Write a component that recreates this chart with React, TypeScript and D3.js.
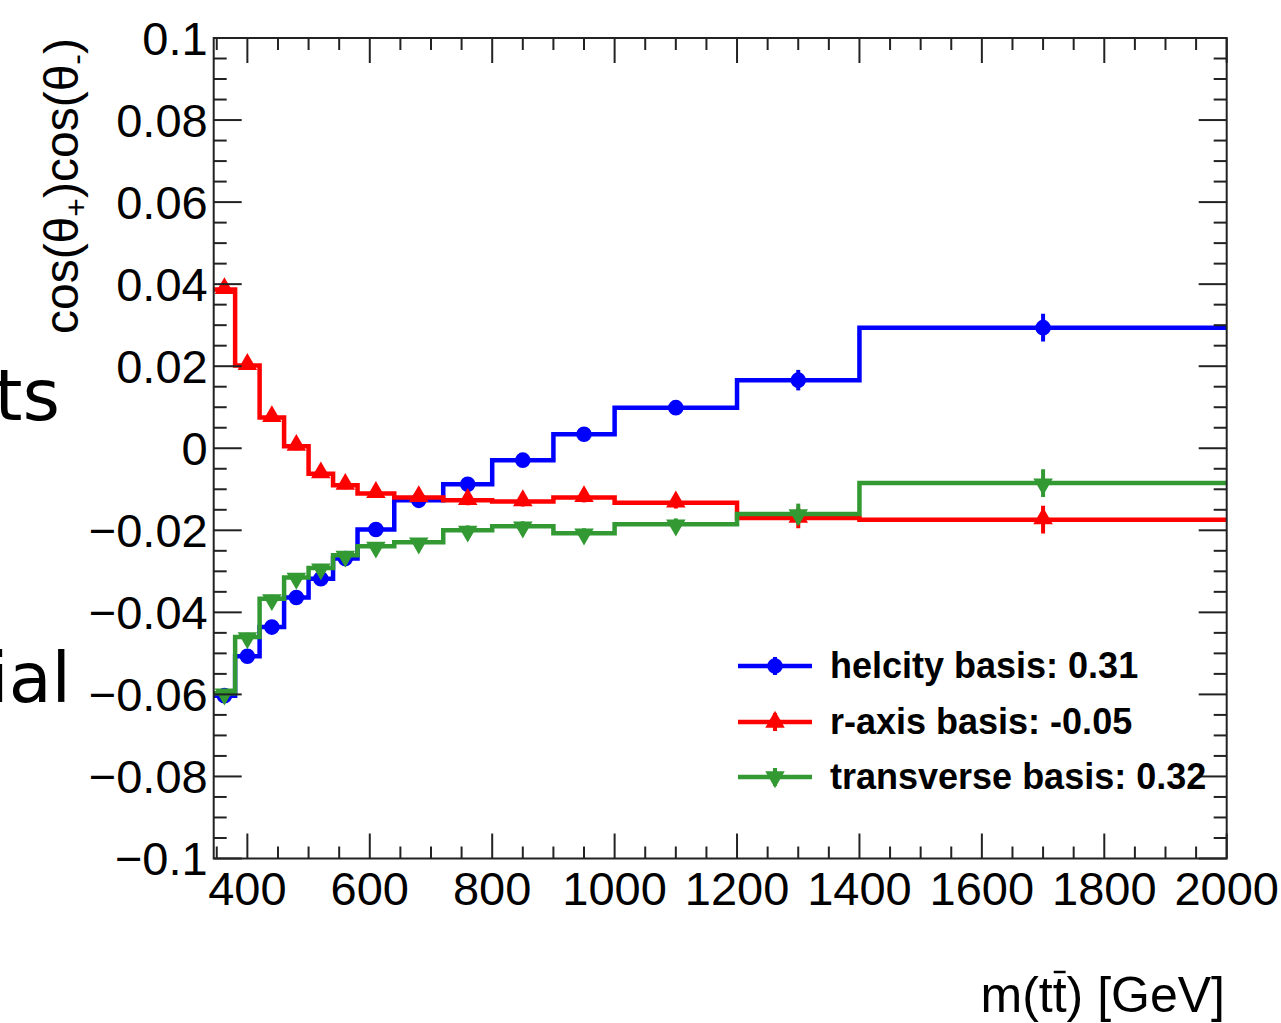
import React, { useEffect, useRef } from 'react';
import * as d3 from 'd3';

// bin edges in m(tt) [GeV]
const binEdges = [345, 380, 420, 460, 500, 540, 580, 640, 720, 800, 900, 1000, 1200, 1400, 2000];

const helicity = [-0.0603, -0.0507, -0.0436, -0.0364, -0.0318, -0.0269, -0.0198, -0.0127, -0.0088, -0.0029, 0.0034, 0.0099, 0.0166, 0.0294];
const helicityErr = [0.001, 0.001, 0.001, 0.001, 0.001, 0.001, 0.001, 0.001, 0.0012, 0.0012, 0.0012, 0.0014, 0.0025, 0.0034];

const rAxis = [0.0387, 0.0202, 0.0075, 0.0005, -0.0062, -0.009, -0.011, -0.012, -0.0127, -0.013, -0.012, -0.0133, -0.017, -0.0174];
const rAxisErr = [0.001, 0.001, 0.001, 0.001, 0.001, 0.001, 0.001, 0.001, 0.0012, 0.0012, 0.0012, 0.0014, 0.0025, 0.0034];

const transverse = [-0.0597, -0.046, -0.0367, -0.0315, -0.0292, -0.0261, -0.0239, -0.0229, -0.02, -0.019, -0.0207, -0.0185, -0.016, -0.0085];
const transverseErr = [0.001, 0.001, 0.001, 0.001, 0.001, 0.001, 0.001, 0.001, 0.0012, 0.0012, 0.0012, 0.0014, 0.0025, 0.0034];

const seriesNames = ['helcity basis: 0.31', 'r-axis basis: -0.05', 'transverse basis: 0.32'];
const seriesColors = ['#0000ff', '#ff0000', '#339933'];

const xTickValues = [400, 600, 800, 1000, 1200, 1400, 1600, 1800, 2000];
const yTickValues = [-0.1, -0.08, -0.06, -0.04, -0.02, 0, 0.02, 0.04, 0.06, 0.08, 0.1];

const width = 1281;
const height = 1023;
const left = 213.7;
const right = 1226.7;
const top = 38;
const bottom = 858.5;
const font = '"Liberation Sans", Arial, Helvetica, sans-serif';

export default function App() {
    const svgRef = useRef(null);

    useEffect(() => {
        const svg = d3.select(svgRef.current);
        svg.selectAll('*').remove();

        const x = d3.scaleLinear().domain([binEdges[0], binEdges[binEdges.length - 1]]).range([left, right]);
        const y = d3.scaleLinear().domain([-0.1, 0.1]).range([bottom, top]);

        // cut-off slide text on the left
        svg.append('text').attr('x', 60).attr('y', 420).attr('text-anchor', 'end')
            .attr('font-family', '"DejaVu Sans", Verdana, sans-serif').attr('font-size', 72).attr('fill', '#000')
            .text('ts');
        svg.append('text').attr('x', 71).attr('y', 702).attr('text-anchor', 'end')
            .attr('font-family', '"DejaVu Sans", Verdana, sans-serif').attr('font-size', 70).attr('fill', '#000')
            .text('ial');

        svg.append('clipPath').attr('id', 'plotclip')
            .append('rect').attr('x', left).attr('y', top).attr('width', right - left).attr('height', bottom - top);

        const plot = svg.append('g').attr('clip-path', 'url(#plotclip)');

        const series = [
            { vals: helicity, errs: helicityErr },
            { vals: rAxis, errs: rAxisErr },
            { vals: transverse, errs: transverseErr },
        ];

        const line = d3.line().x(d => x(d[0])).y(d => y(d[1])).curve(d3.curveStepAfter);
        const markerPath = (i) => {
            if (i === 0) return d3.symbol(d3.symbolCircle, 190)();
            return d3.symbol(d3.symbolTriangle, 165)();
        };

        series.forEach((s, k) => {
            const pts = s.vals.map((v, i) => [binEdges[i], v]);
            pts.push([binEdges[binEdges.length - 1], s.vals[s.vals.length - 1]]);
            const g = plot.append('g');
            g.append('path').attr('d', line(pts)).attr('fill', 'none')
                .attr('stroke', seriesColors[k]).attr('stroke-width', 4.5);

            const centers = s.vals.map((v, i) => ({ c: (binEdges[i] + binEdges[i + 1]) / 2, v, e: s.errs[i] }));
            g.selectAll('line.err').data(centers).join('line')
                .attr('x1', d => x(d.c)).attr('x2', d => x(d.c))
                .attr('y1', d => y(d.v - d.e)).attr('y2', d => y(d.v + d.e))
                .attr('stroke', seriesColors[k]).attr('stroke-width', 4);
            g.selectAll('path.mk').data(centers).join('path')
                .attr('d', markerPath(k))
                .attr('transform', d => `translate(${x(d.c)},${y(d.v) + (k === 1 ? -1 : k === 2 ? 1 : 0)})${k === 2 ? ' rotate(180)' : ''}`)
                .attr('fill', seriesColors[k]);
        });

        // axes ticks
        const axisColor = '#222';
        const tk = svg.append('g').attr('stroke', axisColor).attr('stroke-width', 2);
        const yMinor = d3.range(-20, 21).map(i => i * 0.005);
        yMinor.forEach(v => {
            const major = yTickValues.some(t => Math.abs(t - v) < 1e-9);
            const len = major ? 28 : 13;
            tk.append('line').attr('x1', left).attr('x2', left + len).attr('y1', y(v)).attr('y2', y(v));
            tk.append('line').attr('x1', right).attr('x2', right - len).attr('y1', y(v)).attr('y2', y(v));
        });
        const xMinor = d3.range(350, 2001, 50);
        xMinor.forEach(v => {
            const major = xTickValues.includes(v);
            const len = major ? 25 : 12;
            tk.append('line').attr('x1', x(v)).attr('x2', x(v)).attr('y1', bottom).attr('y2', bottom - len);
            tk.append('line').attr('x1', x(v)).attr('x2', x(v)).attr('y1', top).attr('y2', top + len);
        });

        svg.append('rect').attr('x', left).attr('y', top).attr('width', right - left).attr('height', bottom - top)
            .attr('fill', 'none').attr('stroke', axisColor).attr('stroke-width', 2);

        const fmt = d3.format('.2~f');
        svg.append('g').selectAll('text').data(yTickValues).join('text')
            .attr('x', left - 6).attr('y', d => y(d)).attr('dy', '0.36em')
            .attr('text-anchor', 'end').attr('font-family', font).attr('font-size', 47).attr('fill', '#000')
            .text(d => fmt(d));
        svg.append('g').selectAll('text').data(xTickValues).join('text')
            .attr('x', d => x(d)).attr('y', 905)
            .attr('text-anchor', 'middle').attr('font-family', font).attr('font-size', 47).attr('fill', '#000')
            .text(d => d);

        // axis titles
        const yt = svg.append('text').attr('transform', `translate(78,38) rotate(-90)`)
            .attr('text-anchor', 'end').attr('font-family', font).attr('font-size', 48).attr('fill', '#000');
        yt.append('tspan').text('cos(θ');
        yt.append('tspan').attr('font-size', 32).attr('dy', 9).text('+');
        yt.append('tspan').attr('dy', -9).text(')cos(θ');
        yt.append('tspan').attr('font-size', 32).attr('dy', 9).text('-');
        yt.append('tspan').attr('dy', -9).text(')');

        const xt = svg.append('text').attr('x', 1225).attr('y', 1012)
            .attr('text-anchor', 'end').attr('font-family', font).attr('font-size', 50).attr('fill', '#000')
            .text('m(tt) [GeV]');
        // bar over the second t
        const node = xt.node();
        try {
            const p0 = node.getStartPositionOfChar(3);
            const p1 = node.getEndPositionOfChar(3);
            svg.append('line').attr('x1', p0.x + 1).attr('x2', p1.x - 1)
                .attr('y1', 1012 - 40).attr('y2', 1012 - 40)
                .attr('stroke', '#000').attr('stroke-width', 2.5);
        } catch (e) { /* ignore */ }

        // legend
        const legY = [666, 722, 777];
        const lg = svg.append('g');
        seriesNames.forEach((name, k) => {
            lg.append('line').attr('x1', 738).attr('x2', 812).attr('y1', legY[k]).attr('y2', legY[k])
                .attr('stroke', seriesColors[k]).attr('stroke-width', 4.5);
            lg.append('line').attr('x1', 775).attr('x2', 775).attr('y1', legY[k] - 9).attr('y2', legY[k] + 9)
                .attr('stroke', seriesColors[k]).attr('stroke-width', 4);
            lg.append('path').attr('d', markerPath(k))
                .attr('transform', `translate(775,${legY[k]})${k === 2 ? ' rotate(180)' : ''}`)
                .attr('fill', seriesColors[k]);
            lg.append('text').attr('x', 830).attr('y', legY[k] + 12)
                .attr('font-family', font).attr('font-weight', 'bold').attr('font-size', 36).attr('fill', '#000')
                .text(name);
        });

        svg.node();
    }, []);

    return (
        <svg ref={svgRef} width={width} height={height}
            style={{ position: 'absolute', left: 0, top: 0, background: '#fff', display: 'block' }}></svg>
    );
}
